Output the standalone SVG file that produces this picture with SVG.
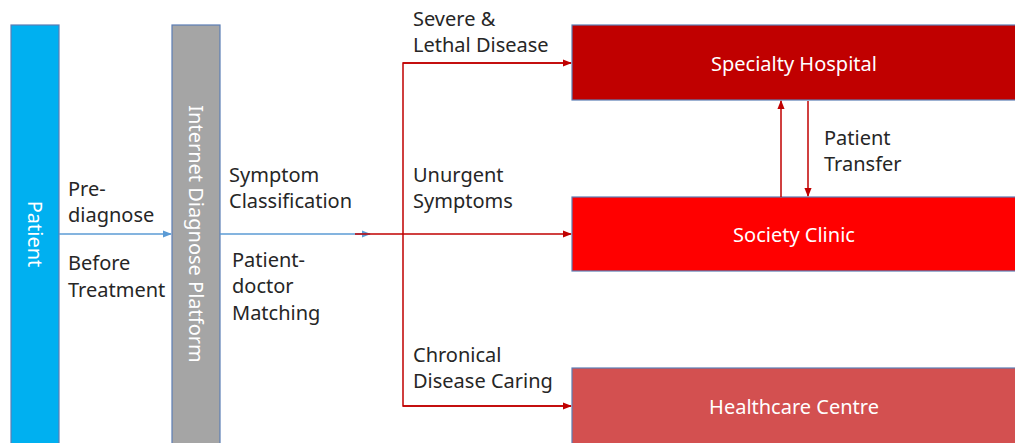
<svg xmlns="http://www.w3.org/2000/svg" width="1015" height="443" viewBox="0 0 1015 443">
<defs>
<style>
.lbl{font-family:"Noto Sans","Open Sans",sans-serif;font-size:20px;fill:#262626}
.wt{font-family:"Noto Sans","Open Sans",sans-serif;font-size:20px;fill:#ffffff}
.box{stroke:#5B7DB5;stroke-width:1.2}
.red{stroke:#C00000;stroke-width:1.5;fill:none}
.blue{stroke:#5B9BD5;stroke-width:1.5;fill:none}
</style>
<marker id="ar" viewBox="0 0 10 10" refX="9" refY="5" markerWidth="6" markerHeight="6" orient="auto"><path d="M0,1 L10,5 L0,9 z" fill="#C00000"/></marker>
<marker id="ab" viewBox="0 0 10 10" refX="9" refY="5" markerWidth="6" markerHeight="6" orient="auto"><path d="M0,1 L10,5 L0,9 z" fill="#5B9BD5"/></marker>
</defs>
<rect width="1015" height="443" fill="#ffffff"/>
<g id="patient">
<rect class="box" x="11" y="25" width="48" height="430" fill="#00B0F0"/>
<text class="wt" transform="translate(35,234) rotate(90)" text-anchor="middle" dominant-baseline="central">Patient</text>
</g>
<g id="platform">
<rect class="box" x="172" y="25" width="48" height="430" fill="#A5A5A5"/>
<text class="wt" transform="translate(196,234) rotate(90)" text-anchor="middle" dominant-baseline="central">Internet Diagnose Platform</text>
</g>
<g id="specialty">
<rect class="box" x="572" y="25" width="460" height="75" fill="#C00000"/>
<text class="wt" x="794" y="71" text-anchor="middle">Specialty Hospital</text>
</g>
<g id="clinic">
<rect class="box" x="572" y="197" width="460" height="74" fill="#FF0000"/>
<text class="wt" x="794" y="242" text-anchor="middle">Society Clinic</text>
</g>
<g id="healthcare">
<rect class="box" x="572" y="368" width="460" height="90" fill="#D35050"/>
<text class="wt" x="794" y="414" text-anchor="middle">Healthcare Centre</text>
</g>
<g id="connectors">
<line class="blue" x1="59" y1="234" x2="171" y2="234" marker-end="url(#ab)"/>
<line class="blue" x1="220" y1="234" x2="370" y2="234" marker-end="url(#ab)"/>
<line class="red" x1="355" y1="234" x2="571" y2="234" marker-end="url(#ar)"/>
<polyline class="red" points="571,63 403,63 403,406 571,406"/>
<line class="red" x1="403" y1="63" x2="571" y2="63" marker-end="url(#ar)"/>
<line class="red" x1="403" y1="406" x2="571" y2="406" marker-end="url(#ar)"/>
<line class="red" x1="781" y1="197" x2="781" y2="101" marker-end="url(#ar)"/>
<line class="red" x1="808" y1="101" x2="808" y2="196" marker-end="url(#ar)"/>
</g>
<g id="labels">
<text class="lbl" x="68" y="196">Pre-</text>
<text class="lbl" x="68" y="222">diagnose</text>
<text class="lbl" x="68" y="270">Before</text>
<text class="lbl" x="68" y="297">Treatment</text>
<text class="lbl" x="229" y="182">Symptom</text>
<text class="lbl" x="229" y="208">Classification</text>
<text class="lbl" x="232" y="267">Patient-</text>
<text class="lbl" x="232" y="293">doctor</text>
<text class="lbl" x="232" y="320">Matching</text>
<text class="lbl" x="413" y="26">Severe &amp;</text>
<text class="lbl" x="413" y="52">Lethal Disease</text>
<text class="lbl" x="413" y="182">Unurgent</text>
<text class="lbl" x="413" y="208">Symptoms</text>
<text class="lbl" x="413" y="362">Chronical</text>
<text class="lbl" x="413" y="388">Disease Caring</text>
<text class="lbl" x="824" y="145">Patient</text>
<text class="lbl" x="824" y="171">Transfer</text>
</g>
</svg>
